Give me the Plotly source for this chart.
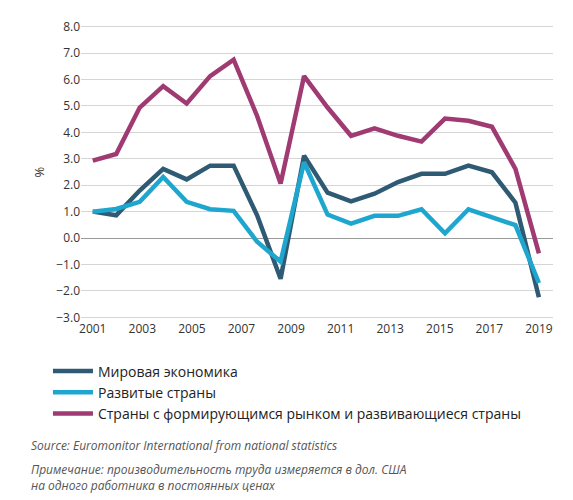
import plotly.graph_objects as go

years = list(range(20))
tick_labels = ["2001","2003","2005","2007","2009","2011","2013","2015","2017","2019"]
world = [1.0,0.86,1.8,2.62,2.22,2.74,2.74,0.86,-1.54,3.12,1.72,1.39,1.68,2.12,2.43,2.43,2.74,2.49,1.34,-2.24]
developed = [1.0,1.1,1.37,2.31,1.37,1.09,1.03,-0.14,-0.89,2.87,0.89,0.55,0.84,0.84,1.09,0.18,1.09,0.8,0.49,-1.7]
emerging = [2.93,3.18,4.94,5.75,5.09,6.13,6.75,4.62,2.06,6.13,4.94,3.87,4.15,3.87,3.65,4.52,4.44,4.21,2.62,-0.58]
names = ["Мировая экономика","Развитые страны","Страны с формирующимся рынком и развивающиеся страны"]
colors = ["#2e5a73","#1ea6cf","#a03a72"]

fig = go.Figure()
for n, v, c in zip(names, [world, developed, emerging], colors):
    fig.add_trace(go.Scatter(x=years, y=v, name=n, mode="lines",
                             line=dict(color=c, width=4.5)))
fig.update_layout(
    width=573, height=500, paper_bgcolor="white", plot_bgcolor="white",
    margin=dict(l=73, r=28, t=10, b=188),
    font=dict(family="Open Sans", size=12, color="#333"),
    showlegend=True,
    legend=dict(x=-0.07, y=-0.12, xanchor="left", yanchor="top",
                font=dict(size=14, color="#222"), tracegroupgap=0, itemwidth=40),
    xaxis=dict(tickvals=[k*19/9 for k in range(10)], ticktext=tick_labels,
               range=[-0.5, 19.6], showgrid=False, zeroline=False, tickfont=dict(size=12)),
    yaxis=dict(range=[-3.1, 8.1], dtick=1, tickformat=".1f", gridcolor="#d5d5d5",
               zeroline=True, zerolinecolor="#999", zerolinewidth=1,
               title=dict(text="%", font=dict(size=13), standoff=8), tickfont=dict(size=12)),
)
fig.add_annotation(xref="paper", yref="paper", x=-0.11, y=-0.39, xanchor="left", yanchor="top",
                   showarrow=False, align="left",
                   text="<i>Source: Euromonitor International from national statistics</i>",
                   font=dict(size=12, color="#555"))
fig.add_annotation(xref="paper", yref="paper", x=-0.11, y=-0.47, xanchor="left", yanchor="top",
                   showarrow=False, align="left",
                   text="<i>Примечание: производительность труда измеряется в дол. США<br>на одного работника в постоянных ценах</i>",
                   font=dict(size=12, color="#555"))
fig.write_html("out.html")
